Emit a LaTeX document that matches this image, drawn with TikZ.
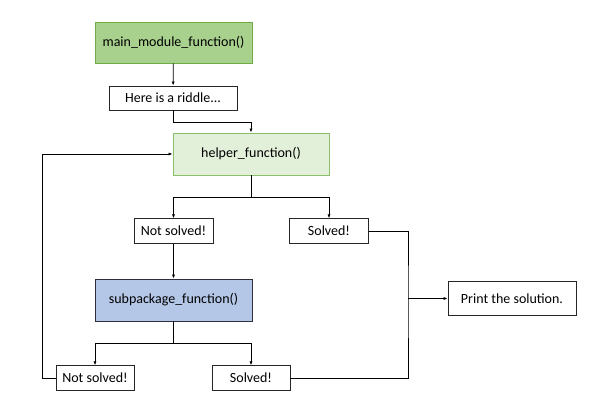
\documentclass[tikz,border=0pt]{standalone}
\usepackage{fontspec}
\setmainfont{Carlito}
\usetikzlibrary{arrows.meta, positioning}
\definecolor{mainfill}{HTML}{A9D18E}
\definecolor{mainline}{HTML}{70AD47}
\definecolor{helperfill}{HTML}{E2F0D9}
\definecolor{helperline}{HTML}{8CBF6C}
\definecolor{subfill}{HTML}{B4C7E7}
\definecolor{subline}{HTML}{2B2F38}

\begin{document}
\begin{tikzpicture}[x=1pt, y=-1pt, >={Latex[length=4pt,width=3.2pt]}, line width=0.8pt]
\useasboundingbox (0,0) rectangle (592,417);
\begin{scope}[every node/.style={font=\fontsize{14}{16}\selectfont, draw=black!85, line width=0.9pt, inner sep=0pt, align=center}]

\node [fill=mainfill, draw=mainline, minimum width=157pt, minimum height=41pt] (main) at (173.5,42.5) {main\_module\_function()};
\node [fill=helperfill, draw=helperline, minimum width=156pt, minimum height=42pt] (helper) at (251,154) {helper\_function()};
\node [fill=subfill, draw=subline, minimum width=157pt, minimum height=42pt] (sub) at (173.5,300) {subpackage\_function()};
\node [fill=white, minimum width=128pt, minimum height=24pt] (riddle) at (173,98) {Here is a riddle...};

% white text boxes
\foreach \name/\x/\y/\w/\h/\txt in {ns1/173.5/231/79/24.5/Not solved!, s1/329/231/79/24.5/Solved!,
    ns2/95/378/78/24.5/Not solved!, s2/251/378/78/24.5/Solved!,
    print/512/298.5/128/34/Print the solution.}
  \node [fill=white, minimum width=\w pt, minimum height=\h pt] (\name) at (\x,\y) {\txt};

\end{scope}

\coordinate (riddlebend) at (173,122);
\coordinate (helpersplit) at (251,197);
\coordinate (subsplit) at (173.5,343);
\coordinate (loopcorner) at (42,378);
\coordinate (joinbar) at (408,298.5);

\draw [->] (main) -- (riddle);
\draw [->] (riddle.south) -- (riddlebend) -| (helper.north);
\draw [->] (helper.south) -- (helpersplit) -| (ns1.north);
\draw [->] (helpersplit) -| (s1.north);
\draw [->] (ns1) -- (sub);
\draw [->] (sub.south) -- (subsplit) -| (ns2.north);
\draw [->] (subsplit) -| (s2.north);
\draw [->] (ns2.west) -- (loopcorner) |- (helper.west);
\draw (s1.east) -| (joinbar) |- (s2.east);
\draw [->] (joinbar) -- (print.west);

\end{tikzpicture}
\end{document}
